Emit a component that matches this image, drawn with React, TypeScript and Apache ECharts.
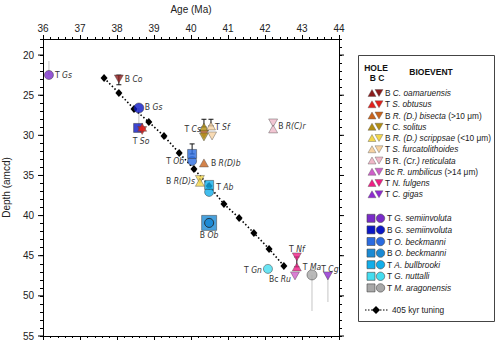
import React, { useEffect, useRef } from "react";
import * as echarts from "echarts";

// ---------- DATA ----------
const xTickValues = [36, 37, 38, 39, 40, 41, 42, 43, 44];
const yMajorTicks = [20, 25, 30, 35, 40, 45, 50, 55];

// 405 kyr tuning tie points
const tuneAge = [37.65, 38.05, 38.46, 38.86, 39.27, 39.68, 40.08, 40.49, 40.89, 41.3, 41.7, 42.11, 42.51];
const tuneDepth = [22.86, 24.72, 26.72, 28.34, 30.08, 32.2, 34.19, 36.31, 38.55, 40.29, 42.16, 44.15, 46.27];

// nannofossil legend
const nannoPrefix = ["B", "T", "B", "T", "B", "T", "B", "Bc", "T", "T"];
const nannoTaxa = ["C. oamaruensis", "S. obtusus", "R. (D.) bisecta", "C. solitus", "R. (D.) scrippsae", "S. furcatolithoides", "(Cr.) reticulata", "R. umbilicus", "N. fulgens", "C. gigas"];
const nannoPre2 = ["", "", "", "", "", "", "R. ", "", "", ""];
const nannoSuffix = ["", "", " (>10 μm)", "", " (<10 μm)", "", "", " (>14 μm)", "", ""];
const nannoColors = ["#8B1C1C", "#E2201C", "#C8641E", "#B28E14", "#F2D64B", "#F6D2A2", "#EFB8C8", "#CF5FC9", "#EE1E84", "#8E2BD0"];

// foraminifera legend
const foramPrefix = ["T", "B", "T", "B", "T", "T", "T"];
const foramTaxa = ["G. semiinvoluta", "G. semiinvoluta", "O. beckmanni", "O. beckmanni", "A. bullbrooki", "G. nuttalli", "M. aragonensis"];
const foramColors = ["#7A2CC9", "#0C18C6", "#2B6BE0", "#1A8AD4", "#12AEEA", "#45DDF0", "#A8A8A8"];

// Hole B nannofossil events (up triangles): [age, depth, nannoIndex]
const holeBNanno = [
  [38.68, 29.0, 1],
  [40.35, 28.96, 3],
  [40.54, 28.83, 5],
  [40.35, 33.44, 2],
  [40.24, 35.85, 4],
  [42.22, 29.2, 6],
  [42.86, 46.39, 8],
];
// Hole C nannofossil events (down triangles): [age, depth, nannoIndex]
const holeCNanno = [
  [38.05, 22.98, 0],
  [38.68, 29.4, 1],
  [40.35, 29.85, 2],
  [40.35, 30.2, 3],
  [40.57, 30.08, 5],
  [40.24, 35.5, 4],
  [42.22, 28.46, 6],
  [42.86, 45.15, 8],
  [42.81, 47.51, 7],
  [43.7, 47.51, 9],
];
// Hole B foram events (squares): [age, depth, foramIndex]
const holeBForam = [
  [38.57, 29.08, 1],
  [40.03, 32.32, 2],
  [40.49, 36.18, 4],
  [40.49, 40.91, 3],
];
// Hole C foram events (circles): [age, depth, foramIndex]
const holeCForam = [
  [36.16, 22.48, 0],
  [38.59, 26.6, 1],
  [40.03, 33.19, 2],
  [40.49, 37.05, 4],
  [40.49, 40.91, 3],
  [42.08, 46.64, 5],
  [43.27, 47.39, 6],
];

// Error / range bars: [age, topDepth, bottomDepth, capped(1) or plain grey(0)]
const rangeBars = [
  [36.16, 20.74, 22.48, 0],
  [38.05, 22.5, 23.7, 1],
  [38.59, 26.6, 29.08, 0],
  [40.35, 28.0, 28.96, 1],
  [40.54, 28.0, 28.83, 1],
  [40.03, 31.07, 32.32, 1],
  [42.86, 45.15, 46.39, 1],
  [43.27, 47.39, 51.87, 0],
  [43.7, 47.51, 50.75, 0],
];

// Event labels: [prefix, abbreviation, age, depth]
const eventLabels = [
  ["T", "Gs", 36.16, 22.48],
  ["B", "Co", 38.05, 22.98],
  ["B", "Gs", 38.59, 26.6],
  ["T", "So", 38.57, 29.08],
  ["T", "Cs", 40.35, 28.96],
  ["T", "Sf", 40.54, 28.83],
  ["T", "Ob", 40.03, 33.19],
  ["B", "R(D)b", 40.35, 33.44],
  ["B", "R(D)s", 40.24, 35.68],
  ["T", "Ab", 40.49, 36.18],
  ["B", "Ob", 40.49, 40.91],
  ["B", "R(C)r", 42.22, 28.83],
  ["T", "Gn", 42.08, 46.64],
  ["T", "Nf", 42.86, 45.15],
  ["Bc", "Ru", 42.81, 47.51],
  ["T", "Ma", 43.27, 47.39],
  ["T", "Cg", 43.7, 47.51],
];

// ---------- LAYOUT / STYLE ----------
const labelPlacement: [string, number, number][] = [
  ["left", 6, 0],
  ["left", 6, 0],
  ["left", 6, -1],
  ["center", 3, 13],
  ["right", -3, 2],
  ["left", 4, 1],
  ["right", -8, 0],
  ["left", 7, 0],
  ["right", -5, 0],
  ["left", 7, 2],
  ["center", 0, 12],
  ["left", 5, 0],
  ["right", -6, 1],
  ["center", 0, -8],
  ["right", -4, 3],
  ["center", 0, -8],
  ["center", 2, -7],
];
const holeBForamSize = [9, 9, 9, 15];
const holeCForamSize = [9, 10, 9, 9, 9, 9, 10];

const AXIS_FONT = '"Liberation Sans", Arial, Helvetica, sans-serif';
const LABEL_FONT = '"Liberation Sans Narrow", "DejaVu Sans Condensed", "Liberation Sans", sans-serif';

function buildLegend(): any[] {
  const c: any[] = [];
  c.push({ type: "rect", shape: { x: 358.5, y: 55.5, width: 136, height: 266 }, style: { fill: "#fff", stroke: "#444", lineWidth: 1 } });
  const hdr = (text: string, x: number, y: number) => ({
    type: "text", x, y,
    style: { text, fontFamily: AXIS_FONT, fontSize: 8.5, fontWeight: "bold", fill: "#111", align: "center", verticalAlign: "middle" },
  });
  c.push(hdr("HOLE", 376, 68));
  c.push(hdr("B C", 377, 78));
  c.push(hdr("BIOEVENT", 431, 72));
  const rich = {
    n: { fontFamily: AXIS_FONT, fontSize: 8.3, fill: "#222" },
    i: { fontFamily: AXIS_FONT, fontSize: 8.3, fill: "#222", fontStyle: "italic" },
  };
  nannoTaxa.forEach((t, k) => {
    const y = 93 + k * 11.25;
    const col = nannoColors[k];
    c.push({ type: "polygon", shape: { points: [[368, y + 3.5], [376, y + 3.5], [372, y - 3.5]] }, style: { fill: col, stroke: "#555", lineWidth: 0.4 } });
    c.push({ type: "polygon", shape: { points: [[375, y - 3.5], [383, y - 3.5], [379, y + 3.5]] }, style: { fill: col, stroke: "#555", lineWidth: 0.4 } });
    let txt = `{n|${nannoPrefix[k]} ${nannoPre2[k]}}{i|${t}}`;
    if (nannoSuffix[k]) txt += `{n|${nannoSuffix[k]}}`;
    c.push({ type: "text", x: 385, y, style: { text: txt, rich, align: "left", verticalAlign: "middle" } });
  });
  foramTaxa.forEach((t, k) => {
    const y = 218.3 + k * 11.6;
    const col = foramColors[k];
    c.push({ type: "rect", shape: { x: 367, y: y - 4, width: 8, height: 8 }, style: { fill: col, stroke: "#444", lineWidth: 0.6 } });
    c.push({ type: "circle", shape: { cx: 380.5, cy: y, r: 4.2 }, style: { fill: col, stroke: "#444", lineWidth: 0.6 } });
    c.push({ type: "text", x: 387, y, style: { text: `{n|${foramPrefix[k]} }{i|${t}}`, rich, align: "left", verticalAlign: "middle" } });
  });
  const ty = 310;
  c.push({ type: "line", shape: { x1: 365, y1: ty, x2: 388, y2: ty }, style: { stroke: "#000", lineWidth: 1, lineDash: [1.5, 1.5] } });
  c.push({ type: "polygon", shape: { points: [[376, ty - 4], [380, ty], [376, ty + 4], [372, ty]] }, style: { fill: "#000" } });
  c.push({ type: "text", x: 392, y: ty, style: { text: "405 kyr tuning", fontFamily: AXIS_FONT, fontSize: 8.3, fill: "#222", align: "left", verticalAlign: "middle" } });
  return c;
}

function buildOption(): any {
  const tickLine = { lineStyle: { color: "#000", width: 1 } };
  const baseX = {
    type: "value", min: xTickValues[0], max: xTickValues[xTickValues.length - 1], interval: 1,
    axisLine: { show: true, onZero: false, lineStyle: { color: "#000", width: 1 } },
    axisTick: { show: true, inside: false, length: 4, ...tickLine },
    minorTick: { show: true, splitNumber: 5, length: 2, lineStyle: { color: "#000", width: 1 } },
    splitLine: { show: false }, minorSplitLine: { show: false },
  };
  const baseY = {
    type: "value", min: 18, max: 55, interval: 1, inverse: true,
    axisLine: { show: true, onZero: false, lineStyle: { color: "#000", width: 1 } },
    axisTick: { show: true, inside: false, length: 3, ...tickLine },
    splitLine: { show: false },
  };
  return {
    animation: false,
    backgroundColor: "#fff",
    grid: { left: 43, top: 39, width: 296, height: 297, containLabel: false, outerBoundsMode: "none" },
    xAxis: [
      {
        ...baseX, position: "top",
        axisLabel: { show: true, fontFamily: AXIS_FONT, fontSize: 10, color: "#222", margin: 6 },
        name: "Age (Ma)", nameLocation: "middle", nameGap: 25,
        nameTextStyle: { fontFamily: AXIS_FONT, fontSize: 10, color: "#222" },
      },
      { ...baseX, position: "bottom", axisLabel: { show: false } },
    ],
    yAxis: [
      {
        ...baseY, position: "left",
        axisLabel: {
          show: true, fontFamily: AXIS_FONT, fontSize: 10, color: "#222", margin: 9,
          formatter: (v: number) => (yMajorTicks.indexOf(v) >= 0 ? String(v) : ""),
        },
        name: "Depth (amcd)", nameLocation: "middle", nameGap: 30,
        nameTextStyle: { fontFamily: AXIS_FONT, fontSize: 10, color: "#222" },
      },
      { ...baseY, position: "right", axisLabel: { show: false } },
    ],
    graphic: { elements: [{ type: "group", children: buildLegend(), z: 100 }] },
    series: [
      {
        name: "majorTicks", type: "custom", xAxisIndex: 0, yAxisIndex: 0, silent: true, clip: false,
        data: yMajorTicks.map((v) => [36, v]),
        renderItem: (_p: any, api: any) => {
          const a = api.coord([36, api.value(1)]);
          const b = api.coord([44, api.value(1)]);
          const st = { stroke: "#000", lineWidth: 1 };
          return {
            type: "group",
            children: [
              { type: "line", shape: { x1: a[0] - 5, y1: a[1], x2: a[0], y2: a[1] }, style: st },
              { type: "line", shape: { x1: b[0], y1: b[1], x2: b[0] + 5, y2: b[1] }, style: st },
            ],
          };
        },
        z: 1,
      },
      {
        name: "rangeBars", type: "custom", silent: true, clip: false,
        data: rangeBars.map((r) => [r[0], r[1], r[2], r[3]]),
        renderItem: (_p: any, api: any) => {
          const top = api.coord([api.value(0), api.value(1)]);
          const bot = api.coord([api.value(0), api.value(2)]);
          const capped = api.value(3) === 1;
          const st = capped ? { stroke: "#111", lineWidth: 1 } : { stroke: "#cfcfcf", lineWidth: 1.2 };
          const ch: any[] = [{ type: "line", shape: { x1: top[0], y1: top[1], x2: bot[0], y2: bot[1] }, style: st }];
          if (capped) {
            ch.push({ type: "line", shape: { x1: top[0] - 2.5, y1: top[1], x2: top[0] + 2.5, y2: top[1] }, style: st });
            ch.push({ type: "line", shape: { x1: bot[0] - 2.5, y1: bot[1], x2: bot[0] + 2.5, y2: bot[1] }, style: st });
          }
          return { type: "group", children: ch };
        },
        z: 2,
      },
      {
        name: "405 kyr tuning", type: "line",
        data: tuneAge.map((a, i) => [a, tuneDepth[i]]),
        symbol: "diamond", symbolSize: [7, 8],
        itemStyle: { color: "#000" },
        lineStyle: { color: "#000", width: 1.6, type: [1.5, 2.2] },
        z: 3,
      },
      {
        name: "holeCForam", type: "scatter", symbol: "circle",
        data: holeCForam.map((d, i) => ({ value: [d[0], d[1]], symbolSize: holeCForamSize[i], itemStyle: { color: foramColors[d[2]], borderColor: "#333", borderWidth: 0.6 } })),
        z: 4,
      },
      {
        name: "holeBForam", type: "scatter", symbol: "rect",
        data: holeBForam.map((d, i) => ({ value: [d[0], d[1]], symbolSize: holeBForamSize[i], itemStyle: { color: foramColors[d[2]], borderColor: "#333", borderWidth: 0.6 } })),
        z: 4,
      },
      {
        name: "holeCForamFront", type: "scatter", symbol: "circle",
        data: holeCForam.filter((d) => d[2] === 3).map((d) => ({ value: [d[0], d[1]], symbolSize: 9, itemStyle: { color: foramColors[d[2]], borderColor: "#222", borderWidth: 1 } })),
        z: 5,
      },
      {
        name: "holeCNanno", type: "scatter", symbol: "triangle", symbolRotate: 180, symbolSize: [9, 8],
        data: holeCNanno.map((d) => ({ value: [d[0], d[1]], itemStyle: { color: nannoColors[d[2]], borderColor: "#444", borderWidth: 0.5 } })),
        z: 5,
      },
      {
        name: "holeBNanno", type: "scatter", symbol: "triangle", symbolSize: [9, 8],
        data: holeBNanno.map((d) => ({ value: [d[0], d[1]], itemStyle: { color: nannoColors[d[2]], borderColor: "#444", borderWidth: 0.5 } })),
        z: 5,
      },
      {
        name: "labels", type: "custom", silent: true, clip: false,
        data: eventLabels.map((l) => [l[2], l[3]]),
        renderItem: (p: any, api: any) => {
          const i = p.dataIndex;
          const pt = api.coord([api.value(0), api.value(1)]);
          const [align, dx, dy] = labelPlacement[i];
          const l = eventLabels[i];
          return {
            type: "text",
            x: pt[0] + dx, y: pt[1] + dy,
            style: {
              text: `{n|${l[0]} }{i|${l[1]}}`,
              align, verticalAlign: "middle",
              rich: {
                n: { fontFamily: LABEL_FONT, fontSize: 8.5, fill: "#333" },
                i: { fontFamily: LABEL_FONT, fontSize: 8.5, fill: "#333", fontStyle: "italic" },
              },
            },
            z2: 10,
          };
        },
        z: 6,
      },
    ],
  };
}

export default function App() {
  const ref = useRef<HTMLDivElement>(null);
  useEffect(() => {
    if (!ref.current) return;
    const chart = echarts.init(ref.current, undefined, { renderer: "svg" });
    chart.setOption(buildOption());
    return () => chart.dispose();
  }, []);
  return <div ref={ref} style={{ position: "absolute", left: 0, top: 0, width: 500, height: 346, background: "#fff" }} />;
}
